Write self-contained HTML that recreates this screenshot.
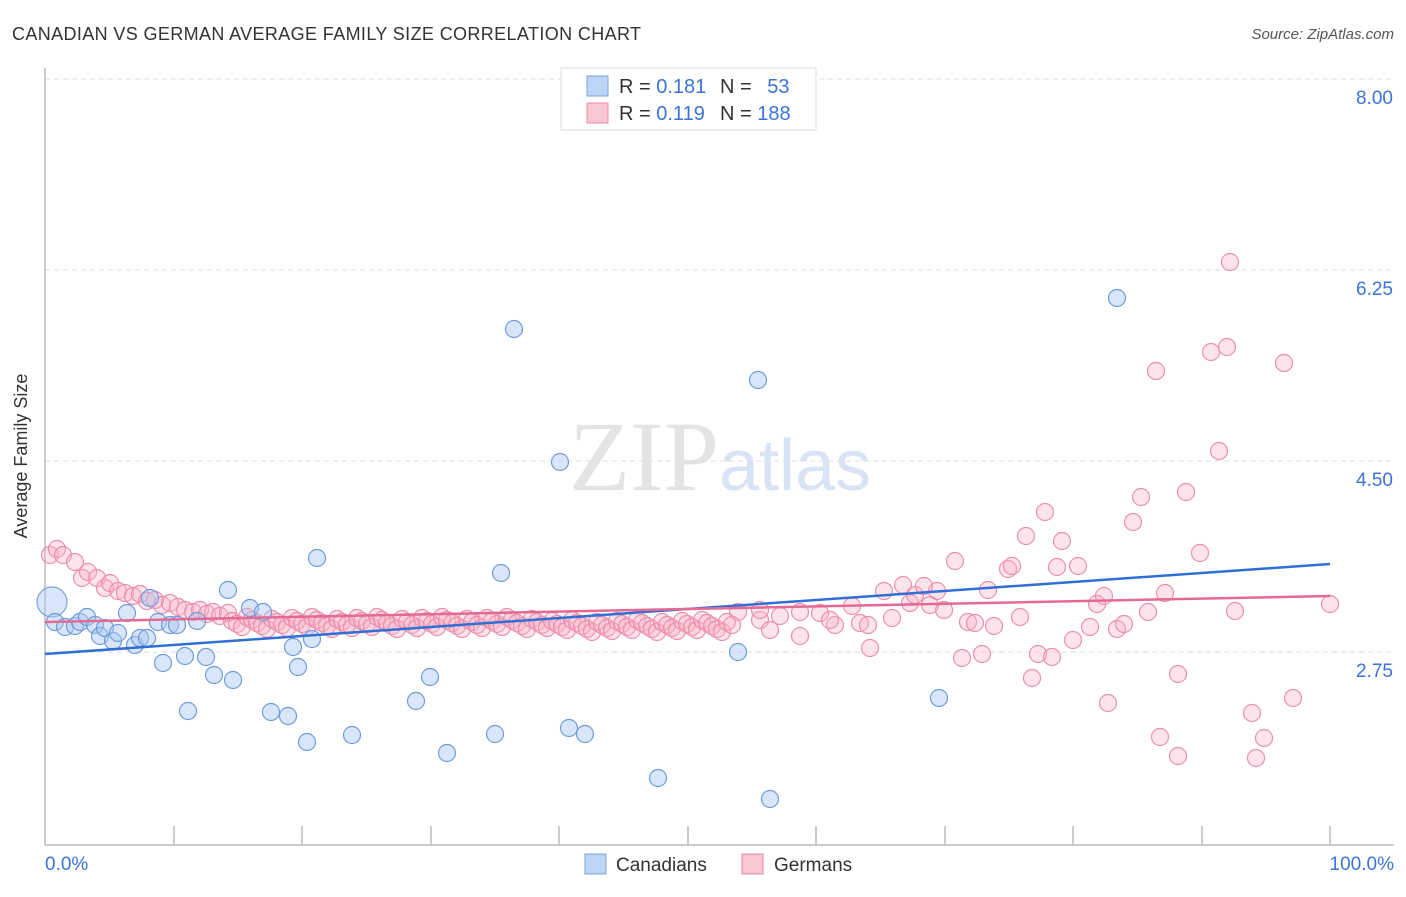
<!DOCTYPE html><html><head><meta charset="utf-8"><style>
body{margin:0;background:#fff;font-family:"Liberation Sans",sans-serif}
</style></head><body>
<svg id="s" width="1406" height="892" xmlns="http://www.w3.org/2000/svg" font-family="Liberation Sans, sans-serif">
<text x="12" y="40" font-size="18" fill="#333" textLength="629">CANADIAN VS GERMAN AVERAGE FAMILY SIZE CORRELATION CHART</text>
<text x="1394" y="39" font-size="15" fill="#555" text-anchor="end" font-style="italic">Source: ZipAtlas.com</text>
<g stroke="#ddd" stroke-dasharray="5,4"><line x1="45" x2="1394" y1="79" y2="79"/><line x1="45" x2="1394" y1="270" y2="270"/><line x1="45" x2="1394" y1="461" y2="461"/><line x1="45" x2="1394" y1="652" y2="652"/></g>
<g font-size="19" fill="#3b74d6" text-anchor="end"><text x="1393" y="104">8.00</text><text x="1393" y="295">6.25</text><text x="1393" y="486">4.50</text><text x="1393" y="677">2.75</text></g>
<text x="720" y="490" font-size="100" fill="#e4e4e4" text-anchor="middle" font-family="Liberation Serif, serif">ZIP<tspan fill="#d8e4f4" font-family="Liberation Sans, sans-serif" font-size="72">atlas</tspan></text>
<g stroke="#bbb" stroke-width="1.5"><line x1="45" y1="68" x2="45" y2="845"/><line x1="45" y1="845" x2="1394" y2="845"/></g>
<g id="ticks" stroke="#bbb" stroke-width="1.5"></g>
<text x="27" y="456" font-size="18" fill="#333" text-anchor="middle" transform="rotate(-90 27 456)">Average Family Size</text>
<text x="45" y="870" font-size="19" fill="#3b74d6">0.0%</text>
<text x="1394" y="870" font-size="19" fill="#3b74d6" text-anchor="end">100.0%</text>
<g id="pk"></g><g id="bl"></g>
<line x1="45" y1="654" x2="1330" y2="564" stroke="#2f6fd6" stroke-width="2.5"/>
<line x1="45" y1="622" x2="1330" y2="596" stroke="#e46a93" stroke-width="2.5"/>
<rect x="561" y="68" width="255" height="62" fill="#fff" stroke="#ddd"/>
<rect x="587" y="76" width="21" height="20" fill="#bcd4f6" stroke="#7aa3dc"/>
<rect x="587" y="103" width="21" height="20" fill="#f9c6d4" stroke="#e98aa8"/>
<g font-size="20"><text x="619" y="93" fill="#333">R = <tspan fill="#3b74d6">0.181</tspan></text><text x="720" y="93" fill="#333">N = <tspan fill="#3b74d6" dx="10">53</tspan></text>
<text x="619" y="120" fill="#333">R = <tspan fill="#3b74d6">0.119</tspan></text><text x="720" y="120" fill="#333">N = <tspan fill="#3b74d6">188</tspan></text></g>
<rect x="585" y="854" width="21" height="20" fill="#bcd4f6" stroke="#7aa3dc"/><text x="616" y="871" font-size="19" fill="#333">Canadians</text>
<rect x="742" y="854" width="21" height="20" fill="#f9c6d4" stroke="#e98aa8"/><text x="774" y="871" font-size="19" fill="#333">Germans</text>
</svg>
<script>
var NS="http://www.w3.org/2000/svg";
function c(g,x,y,r,f,s){var e=document.createElementNS(NS,"circle");e.setAttribute("cx",x);e.setAttribute("cy",y);e.setAttribute("r",r);e.setAttribute("fill",f);e.setAttribute("stroke",s);e.setAttribute("stroke-width","1.2");document.getElementById(g).appendChild(e);}
var tk=document.getElementById("ticks");
[174,302,431,559,688,816,945,1073,1202,1330].forEach(function(x){var l=document.createElementNS(NS,"line");l.setAttribute("x1",x);l.setAttribute("x2",x);l.setAttribute("y1",826);l.setAttribute("y2",845);tk.appendChild(l);});
var P=[[50,555],[57,549],[63,555],[75,562],[82,578],[88,572],[97,578],[105,588],[110,583],[118,591],[125,593],[133,596],[140,594],[147,601],[155,600],[162,605],[170,603],[178,607],[185,610],[193,612],[200,610],[207,614],[213,612],[220,616],[228,613],[738,612],[760,620],[770,630],[780,616],[800,612],[820,613],[835,625],[852,606],[860,623],[868,625],[884,591],[892,618],[903,585],[910,603],[915,595],[924,586],[930,605],[937,591],[944,610],[955,561],[962,658],[968,622],[975,623],[982,654],[988,590],[994,626],[1008,569],[1012,566],[1020,617],[1026,536],[1032,678],[1038,654],[1045,512],[1052,657],[1057,567],[1062,541],[1073,640],[1078,566],[1090,627],[1097,604],[1104,596],[1108,703],[1117,629],[1124,624],[1133,522],[1141,497],[1148,612],[1156,371],[1160,737],[1165,593],[1178,756],[1178,674],[1186,492],[1200,553],[1211,352],[1219,451],[1227,347],[1230,262],[1235,611],[1252,713],[1256,758],[1264,738],[1284,363],[1293,698],[1330,604],[800,636],[830,620],[870,648],[760,610]];
for(var x=232;x<735;x+=5){var y=622+((x*37)%13)-5+(x>550?3:0);P.push([x,y]);}
P.forEach(function(p){c("pk",p[0],p[1],8.5,"rgba(248,178,198,0.35)","#eb8fad");});
var B=[[55,622],[65,627],[75,626],[80,622],[87,617],[95,625],[100,636],[105,628],[113,641],[118,633],[127,613],[135,645],[140,638],[147,638],[150,598],[158,622],[163,663],[170,625],[177,625],[185,656],[188,711],[197,621],[206,657],[214,675],[228,590],[233,680],[250,608],[263,612],[271,712],[288,716],[293,647],[298,667],[307,742],[312,639],[317,558],[352,735],[416,701],[430,677],[447,753],[495,734],[501,573],[514,329],[560,462],[569,728],[585,734],[658,778],[738,652],[758,380],[770,799],[939,698],[1117,298]];
c("bl",52,602,15,"rgba(170,200,242,0.45)","#7aa3dc");
B.forEach(function(p){c("bl",p[0],p[1],8.5,"rgba(170,200,242,0.45)","#6f9bdb");});
</script>
</body></html>
